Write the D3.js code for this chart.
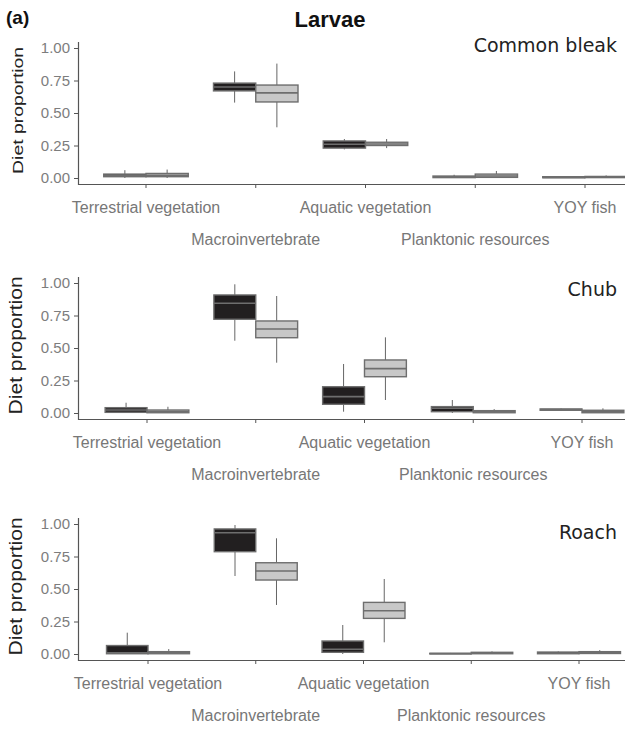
<!DOCTYPE html>
<html>
<head>
<meta charset="utf-8">
<script src="https://cdn.jsdelivr.net/npm/d3@7"></script>
<style>
  html, body { margin: 0; padding: 0; background: #fff; }
  svg { display: block; }
</style>
</head>
<body>
<div id="chart"></div>
<script>
// Diet categories on the x axis
const categories = ["Terrestrial vegetation", "Macroinvertebrate", "Aquatic vegetation", "Planktonic resources", "YOY fish"];
const species = ["Common bleak", "Chub", "Roach"];
const yTicks = [0, 0.25, 0.5, 0.75, 1];

// Five-number summaries per category: [lower whisker, Q1, median, Q3, upper whisker]
const bleakDark = [
  [0, 0.01, 0.02, 0.03, 0.06],
  [0.58, 0.67, 0.70, 0.73, 0.82],
  [0.22, 0.23, 0.26, 0.285, 0.30],
  [0, 0.003, 0.01, 0.015, 0.025],
  [0, 0.002, 0.005, 0.01, 0.015]
];
const bleakLight = [
  [0, 0.01, 0.02, 0.035, 0.065],
  [0.39, 0.585, 0.655, 0.715, 0.88],
  [0.23, 0.25, 0.262, 0.275, 0.30],
  [0, 0.005, 0.015, 0.03, 0.054],
  [0, 0.003, 0.008, 0.012, 0.02]
];
const chubDark = [
  [0, 0.005, 0.023, 0.041, 0.079],
  [0.556, 0.721, 0.844, 0.908, 0.99],
  [0.01, 0.067, 0.126, 0.202, 0.377],
  [0, 0.01, 0.036, 0.049, 0.10],
  [0.018, 0.021, 0.026, 0.031, 0.035]
];
const chubLight = [
  [0, 0.002, 0.012, 0.023, 0.048],
  [0.387, 0.579, 0.646, 0.708, 0.90],
  [0.10, 0.279, 0.341, 0.408, 0.582],
  [0, 0.002, 0.01, 0.018, 0.03],
  [0, 0.002, 0.012, 0.021, 0.036]
];
const roachDark = [
  [0, 0.002, 0.01, 0.065, 0.164],
  [0.60, 0.787, 0.933, 0.962, 0.992],
  [0, 0.013, 0.036, 0.10, 0.223],
  [0, 0.001, 0.003, 0.005, 0.008],
  [0, 0.002, 0.008, 0.015, 0.02]
];
const roachLight = [
  [0, 0.002, 0.01, 0.018, 0.038],
  [0.377, 0.569, 0.638, 0.702, 0.89],
  [0.09, 0.274, 0.333, 0.397, 0.577],
  [0, 0.002, 0.008, 0.013, 0.02],
  [0, 0.004, 0.01, 0.018, 0.03]
];

const seriesBySpecies = [
  [bleakDark, bleakLight],
  [chubDark, chubLight],
  [roachDark, roachLight]
];
const fills = ["#221f20", "#c8c8c8"];

const SANS = "'Liberation Sans', Arial, sans-serif";
const VERDANA = "'DejaVu Sans', Verdana, sans-serif";

// Layout of the three stacked panels
const W = 625, H = 729;
const axisX = 78;
const panels = [
  { zeroY: 178, unit: 130, x0: 146, x1: 585, titleSize: 15.5, titleLen: 127, titleX: 23, labelY: 52 },
  { zeroY: 413, unit: 130, x0: 147, x1: 582, titleSize: 17.5, titleLen: 138, titleX: 22, labelY: 296 },
  { zeroY: 654, unit: 130, x0: 148, x1: 579, titleSize: 17.5, titleLen: 138, titleX: 22, labelY: 539 }
];

const svg = d3.select("#chart").append("svg")
  .attr("width", W).attr("height", H)
  .style("background", "#fff")
  .style("font-family", SANS);

svg.append("text")
  .attr("x", 6).attr("y", 24)
  .attr("font-size", 19).attr("font-weight", "bold").attr("fill", "#111")
  .text("(a)");

svg.append("text")
  .attr("x", 330).attr("y", 27)
  .attr("text-anchor", "middle")
  .attr("font-size", 22).attr("font-weight", "bold").attr("fill", "#111")
  .text("Larvae");

panels.forEach((p, si) => {
  const y = d3.scaleLinear()
    .domain([-0.05, 1.05])
    .range([p.zeroY + 0.05 * p.unit, p.zeroY - 1.05 * p.unit]);
  const x = d3.scalePoint().domain(categories).range([p.x0, p.x1]);
  const boxW = x.step() * 0.385;

  const g = svg.append("g");

  // y axis
  const yAxis = d3.axisLeft(y).tickValues(yTicks).tickFormat(d3.format(".2f"))
    .tickSize(4).tickPadding(4).tickSizeOuter(0);
  const ya = g.append("g").attr("transform", `translate(${axisX},0)`).call(yAxis);
  ya.attr("font-family", null).attr("font-size", null);
  ya.select(".domain").attr("stroke", "#555").attr("stroke-width", 1.2);
  ya.selectAll(".tick line").attr("stroke", "#555").attr("stroke-width", 1);
  ya.selectAll(".tick text")
    .style("font-family", SANS)
    .style("font-size", "15px")
    .attr("fill", "#7d7d7d");

  // x axis
  const baseY = y(-0.05);
  const xa = g.append("g").attr("transform", `translate(0,${baseY})`);
  xa.append("line")
    .attr("x1", axisX).attr("x2", W)
    .attr("stroke", "#555").attr("stroke-width", 1.2);
  xa.selectAll("line.tk").data(categories).join("line")
    .attr("class", "tk")
    .attr("x1", d => x(d)).attr("x2", d => x(d))
    .attr("y1", 0).attr("y2", 3.5)
    .attr("stroke", "#555").attr("stroke-width", 1);
  xa.selectAll("text.cat").data(categories).join("text")
    .attr("class", "cat")
    .attr("x", d => x(d))
    .attr("y", (d, i) => i % 2 === 0 ? 28 : 60)
    .attr("text-anchor", "middle")
    .style("font-family", SANS)
    .style("font-size", "16px")
    .attr("fill", "#777")
    .text(d => d);

  // y axis title
  g.append("text")
    .attr("transform", `translate(${p.titleX},${y(0.52)}) rotate(-90)`)
    .attr("text-anchor", "middle")
    .style("font-family", SANS)
    .style("font-size", p.titleSize + "px")
    .attr("fill", "#222")
    .attr("textLength", p.titleLen).attr("lengthAdjust", "spacingAndGlyphs")
    .text("Diet proportion");

  // species label
  g.append("text")
    .attr("x", 617).attr("y", p.labelY)
    .attr("text-anchor", "end")
    .style("font-family", VERDANA)
    .style("font-size", "19px")
    .attr("fill", "#222")
    .text(species[si]);

  // boxes
  seriesBySpecies[si].forEach((series, k) => {
    const bg = g.append("g");
    const items = series.map((s, i) => ({ cat: categories[i], s }));
    const left = d => x(d.cat) - boxW + k * boxW;
    const mid = d => left(d) + boxW / 2;

    bg.selectAll("line.wu").data(items).join("line")
      .attr("class", "wu")
      .attr("x1", mid).attr("x2", mid)
      .attr("y1", d => y(d.s[3])).attr("y2", d => y(d.s[4]))
      .attr("stroke", "#666").attr("stroke-width", 1);
    bg.selectAll("line.wl").data(items).join("line")
      .attr("class", "wl")
      .attr("x1", mid).attr("x2", mid)
      .attr("y1", d => y(d.s[1])).attr("y2", d => y(d.s[0]))
      .attr("stroke", "#666").attr("stroke-width", 1);
    bg.selectAll("rect").data(items).join("rect")
      .attr("x", left).attr("width", boxW)
      .attr("y", d => y(d.s[3]))
      .attr("height", d => Math.max(0, y(d.s[1]) - y(d.s[3])))
      .attr("fill", fills[k])
      .attr("stroke", "#6e6e6e").attr("stroke-width", 1.4);
    bg.selectAll("line.med").data(items).join("line")
      .attr("class", "med")
      .attr("x1", left).attr("x2", d => left(d) + boxW)
      .attr("y1", d => y(d.s[2])).attr("y2", d => y(d.s[2]))
      .attr("stroke", "#6e6e6e").attr("stroke-width", 1.6);
  });
});
</script>
</body>
</html>
